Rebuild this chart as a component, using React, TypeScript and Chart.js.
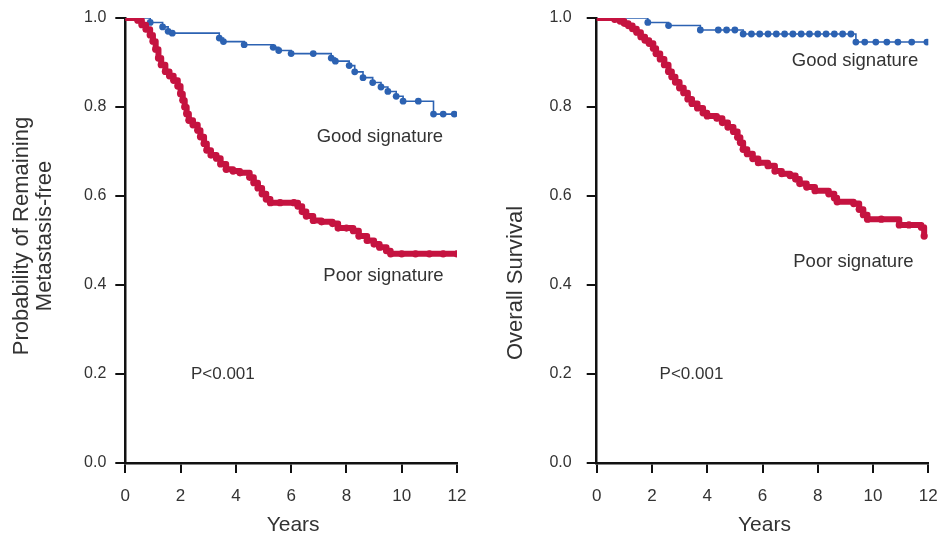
import React, { useEffect, useRef } from 'react';
import { Chart, registerables } from 'chart.js';

Chart.register(...registerables);

// ---------- DATA ----------
const xTickValues = [0, 2, 4, 6, 8, 10, 12];
const yTickValues = [0, 0.2, 0.4, 0.6, 0.8, 1.0];

// Left panel: metastasis-free probability
const metGoodTimes = [0, 0.9, 1.35, 1.55, 1.7, 3.4, 3.55, 4.3, 5.35, 5.55, 6.0, 6.8, 7.45, 7.6, 8.1, 8.3, 8.6, 8.95, 9.25, 9.5, 9.8, 10.05, 10.6, 11.15, 11.5, 11.9];
const metGoodSurv = [1.0, 0.99, 0.98, 0.97, 0.966, 0.955, 0.947, 0.94, 0.934, 0.927, 0.92, 0.92, 0.91, 0.903, 0.893, 0.879, 0.866, 0.855, 0.845, 0.835, 0.824, 0.813, 0.813, 0.784, 0.784, 0.784];

const metPoorTimes = [0, 0.45, 0.6, 0.75, 0.9, 1.0, 1.1, 1.2, 1.3, 1.45, 1.6, 1.75, 1.9, 2.0, 2.08, 2.15, 2.22, 2.3, 2.45, 2.62, 2.72, 2.85, 2.95, 3.1, 3.3, 3.45, 3.65, 3.9, 4.15, 4.5, 4.65, 4.8, 4.95, 5.1, 5.25, 5.6, 6.1, 6.25, 6.4, 6.55, 6.8, 7.1, 7.5, 7.7, 8.0, 8.25, 8.45, 8.75, 9.0, 9.2, 9.45, 9.6, 10.0, 10.5, 11.0, 11.5, 12.0];
const metPoorSurv = [1.0, 0.995, 0.985, 0.975, 0.962, 0.948, 0.93, 0.91, 0.895, 0.88, 0.87, 0.86, 0.847, 0.83, 0.815, 0.8, 0.785, 0.77, 0.76, 0.748, 0.733, 0.718, 0.703, 0.692, 0.685, 0.672, 0.66, 0.656, 0.652, 0.642, 0.63, 0.618, 0.605, 0.593, 0.585, 0.585, 0.585, 0.577, 0.565, 0.555, 0.545, 0.542, 0.538, 0.528, 0.528, 0.522, 0.51, 0.5, 0.492, 0.485, 0.477, 0.47, 0.47, 0.47, 0.47, 0.47, 0.47];

// Right panel: overall survival
const osGoodTimes = [0, 1.85, 2.6, 3.75, 4.4, 4.7, 5.0, 5.3, 5.6, 5.9, 6.2, 6.5, 6.8, 7.1, 7.4, 7.7, 8.0, 8.3, 8.6, 8.9, 9.2, 9.38, 9.7, 10.1, 10.5, 10.9, 11.4, 11.95];
const osGoodSurv = [1.0, 0.99, 0.983, 0.973, 0.973, 0.973, 0.973, 0.964, 0.964, 0.964, 0.964, 0.964, 0.964, 0.964, 0.964, 0.964, 0.964, 0.964, 0.964, 0.964, 0.964, 0.946, 0.946, 0.946, 0.946, 0.946, 0.946, 0.946];

const osPoorTimes = [0, 0.65, 0.85, 1.0, 1.15, 1.3, 1.45, 1.6, 1.75, 1.9, 2.05, 2.15, 2.3, 2.45, 2.6, 2.72, 2.85, 3.0, 3.15, 3.3, 3.45, 3.65, 3.85, 4.0, 4.35, 4.55, 4.75, 4.95, 5.1, 5.2, 5.3, 5.45, 5.65, 5.85, 6.2, 6.45, 6.7, 7.0, 7.2, 7.35, 7.6, 7.9, 8.4, 8.6, 8.7, 9.3, 9.5, 9.65, 9.8, 10.3, 10.95, 11.3, 11.75, 11.85];
const osPoorSurv = [1.0, 0.997, 0.993, 0.988, 0.983, 0.976, 0.968, 0.958, 0.95, 0.943, 0.932, 0.92, 0.908, 0.895, 0.88, 0.868, 0.856, 0.843, 0.832, 0.818, 0.808, 0.798, 0.787, 0.78, 0.775, 0.765, 0.755, 0.745, 0.732, 0.72, 0.705, 0.695, 0.684, 0.675, 0.668, 0.656, 0.65, 0.646, 0.638, 0.628, 0.62, 0.612, 0.605, 0.596, 0.587, 0.583, 0.57, 0.558, 0.548, 0.548, 0.535, 0.535, 0.53, 0.51];

const seriesNames = ['Good signature', 'Poor signature'];
const pValueText = 'P<0.001';
const xAxisTitle = 'Years';
const leftYTitle = ['Probability of Remaining', 'Metastasis-free'];
const rightYTitle = ['Overall Survival'];

// label anchors in data units [x, y]
const leftLabelPos = [[9.21, 0.733], [9.34, 0.42], [3.53, 0.2]];
const rightLabelPos = [[9.35, 0.903], [9.29, 0.453], [3.43, 0.2]];

// ---------- STYLE ----------
const RED = '#c51340';
const BLUE = '#2c62b2';
const FONT = '"Liberation Sans", Arial, Helvetica, sans-serif';
const TEXT = '#333333';
const AXIS = '#111111';

const toPts = (t: number[], s: number[]) => t.map((x, i) => ({ x, y: s[i] }));

type PanelCfg = {
  goodT: number[]; goodS: number[]; poorT: number[]; poorS: number[];
  labelPos: number[][];
  yTitle: string[];
  yTitleX: number;
  yTitleCenterY: number;
  yAxisWidth: number;
  rightPad: number;
  tickPad: number;
};

function makeChart(canvas: HTMLCanvasElement, cfg: PanelCfg) {
  const textPlugin = {
    id: 'panelTexts',
    afterDraw(chart: any) {
      const { ctx, chartArea, scales } = chart;
      ctx.save();
      ctx.fillStyle = TEXT;
      ctx.textAlign = 'center';
      ctx.textBaseline = 'middle';
      const texts = [seriesNames[0], seriesNames[1], pValueText];
      const sizes = [18.5, 18.5, 17];
      texts.forEach((t, i) => {
        ctx.font = `${sizes[i]}px ${FONT}`;
        ctx.fillText(t, scales.x.getPixelForValue(cfg.labelPos[i][0]), scales.y.getPixelForValue(cfg.labelPos[i][1]));
      });
      ctx.font = `21px ${FONT}`;
      ctx.fillText(xAxisTitle, (chartArea.left + chartArea.right) / 2 + 2, 525);
      ctx.font = `22px ${FONT}`;
      cfg.yTitle.forEach((line, i) => {
        ctx.save();
        ctx.translate(cfg.yTitleX + i * 23, cfg.yTitleCenterY);
        ctx.rotate(-Math.PI / 2);
        ctx.fillText(line, 0, 0);
        ctx.restore();
      });
      ctx.restore();
    },
  };

  const noPad = (s: any) => { s.paddingTop = 0; s.paddingBottom = 0; s.paddingLeft = 0; s.paddingRight = 0; };

  return new Chart(canvas, {
    type: 'line',
    data: {
      datasets: [
        {
          label: seriesNames[1],
          data: toPts(cfg.poorT, cfg.poorS),
          borderColor: RED,
          backgroundColor: RED,
          borderWidth: 6,
          borderJoinStyle: 'round',
          borderCapStyle: 'round',
          stepped: true,
          pointRadius: (c: any) => (c.dataIndex === 0 ? 0 : 3.6),
          pointBorderWidth: 0,
          fill: false,
        },
        {
          label: seriesNames[0],
          data: toPts(cfg.goodT, cfg.goodS),
          borderColor: BLUE,
          backgroundColor: BLUE,
          borderWidth: 1.6,
          stepped: true,
          pointRadius: (c: any) => (c.dataIndex === 0 ? 0 : 3.4),
          pointBorderWidth: 0,
          fill: false,
        },
      ],
    },
    options: {
      animation: false,
      responsive: false,
      maintainAspectRatio: false,
      layout: { padding: { left: 0, right: cfg.rightPad, top: 18, bottom: 0 } },
      plugins: { legend: { display: false }, tooltip: { enabled: false } },
      scales: {
        x: {
          type: 'linear',
          min: 0,
          max: 12,
          afterBuildTicks: (s: any) => { s.ticks = xTickValues.map((v) => ({ value: v })); },
          ticks: { color: TEXT, font: { size: 17, family: FONT }, padding: 13, maxRotation: 0 },
          grid: { display: true, drawOnChartArea: false, drawTicks: true, tickLength: 10, color: AXIS, lineWidth: 2 },
          border: { display: true, color: AXIS, width: 2.5 },
          afterFit: (s: any) => { s.height = 74; noPad(s); },
        },
        y: {
          type: 'linear',
          min: 0,
          max: 1,
          afterBuildTicks: (s: any) => { s.ticks = yTickValues.map((v) => ({ value: v })); },
          ticks: { color: TEXT, font: { size: 16, family: FONT }, padding: cfg.tickPad, callback: (v: any) => Number(v).toFixed(1) },
          grid: { display: true, drawOnChartArea: false, drawTicks: true, tickLength: 10, color: AXIS, lineWidth: 2 },
          border: { display: true, color: AXIS, width: 2.5 },
          afterFit: (s: any) => { s.width = cfg.yAxisWidth; noPad(s); },
        },
      },
    } as any,
    plugins: [textPlugin],
  });
}

function Panel({ cfg, left }: { cfg: PanelCfg; left: number }) {
  const ref = useRef<HTMLCanvasElement>(null);
  useEffect(() => {
    if (!ref.current) return;
    const ch = makeChart(ref.current, cfg);
    return () => ch.destroy();
  }, []);
  return (
    <div style={{ position: 'absolute', left, top: 0, width: 475, height: 537 }}>
      <canvas ref={ref} width={475} height={537} style={{ width: 475, height: 537, display: 'block' }} />
    </div>
  );
}

const leftCfg: PanelCfg = {
  goodT: metGoodTimes, goodS: metGoodSurv, poorT: metPoorTimes, poorS: metPoorSurv,
  labelPos: leftLabelPos, yTitle: leftYTitle, yTitleX: 22, yTitleCenterY: 236,
  yAxisWidth: 125.3, rightPad: 18, tickPad: 9,
};
const rightCfg: PanelCfg = {
  goodT: osGoodTimes, goodS: osGoodSurv, poorT: osPoorTimes, poorS: osPoorSurv,
  labelPos: rightLabelPos, yTitle: rightYTitle, yTitleX: 41, yTitleCenterY: 283,
  yAxisWidth: 121.7, rightPad: 21.7, tickPad: 15,
};

export default function App() {
  return (
    <div style={{ position: 'absolute', left: 0, top: 0, width: 950, height: 537, background: '#fff', overflow: 'hidden' }}>
      <Panel cfg={leftCfg} left={0} />
      <Panel cfg={rightCfg} left={475} />
    </div>
  );
}
